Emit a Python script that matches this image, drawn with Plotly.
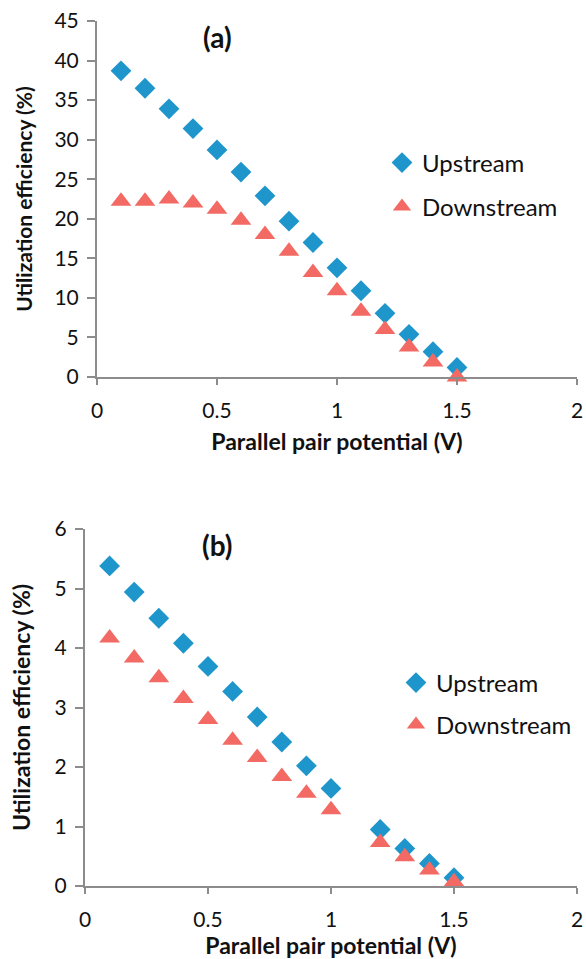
import plotly.graph_objects as go

# ---- data ----
potential_a = [0.1, 0.2, 0.3, 0.4, 0.5, 0.6, 0.7, 0.8, 0.9, 1.0, 1.1, 1.2, 1.3, 1.4, 1.5]
upstream_a = [38.7, 36.5, 33.9, 31.4, 28.7, 25.9, 22.9, 19.7, 17.0, 13.8, 10.9, 8.05, 5.4, 3.2, 1.2]
downstream_a = [22.2, 22.2, 22.5, 22.0, 21.2, 19.8, 18.0, 15.9, 13.2, 10.9, 8.3, 6.0, 3.8, 1.9, 0.0]

potential_b = [0.1, 0.2, 0.3, 0.4, 0.5, 0.6, 0.7, 0.8, 0.9, 1.0, 1.2, 1.3, 1.4, 1.5]
upstream_b = [5.38, 4.94, 4.50, 4.08, 3.69, 3.27, 2.84, 2.42, 2.02, 1.64, 0.95, 0.63, 0.38, 0.14]
downstream_b = [4.17, 3.83, 3.50, 3.15, 2.80, 2.45, 2.16, 1.84, 1.56, 1.28, 0.73, 0.49, 0.27, 0.07]

x_ticks = [0, 0.5, 1, 1.5, 2]
x_tick_text = ["0", "0.5", "1", "1.5", "2"]
y_ticks_a = [0, 5, 10, 15, 20, 25, 30, 35, 40, 45]
y_ticks_b = [0, 1, 2, 3, 4, 5, 6]

BLUE = "#1E96CB"
RED = "#F26A63"
AXIS = "#8C8C8C"
FONT = "Lato, 'Open Sans', sans-serif"
W, H = 586, 959

fig = go.Figure()

def add_pair(x, up, down, xa, ya, leg_up, leg_down):
    fig.add_trace(go.Scatter(x=x, y=up, mode="markers", name="Upstream",
                             marker=dict(symbol="diamond", size=16, color=BLUE),
                             xaxis=xa, yaxis=ya, legend=leg_up, showlegend=True, cliponaxis=False))
    fig.add_trace(go.Scatter(x=x, y=down, mode="markers", name="Downstream",
                             marker=dict(symbol="triangle-up", size=18, color=RED),
                             xaxis=xa, yaxis=ya, legend=leg_down, showlegend=True, cliponaxis=False))

add_pair(potential_a, upstream_a, downstream_a, "x", "y", "legend", "legend2")
add_pair(potential_b, upstream_b, downstream_b, "x2", "y2", "legend3", "legend4")

def xaxis(domain, anchor, title_size, standoff):
    return dict(domain=domain, anchor=anchor, range=[0, 2], tickvals=x_ticks, ticktext=x_tick_text,
                showgrid=False, zeroline=False, showline=True, linecolor=AXIS, linewidth=2,
                ticks="outside", ticklen=6, tickcolor=AXIS, tickwidth=1.5, automargin=False,
                tickfont=dict(size=21, color="#111"), ticklabelstandoff=8,
                title=dict(text="<b>Parallel pair potential (V)</b>",
                           font=dict(size=title_size, color="#111"), standoff=standoff))

def yaxis(domain, anchor, rng, ticks, title_size, standoff):
    return dict(domain=domain, anchor=anchor, range=rng, tickvals=ticks,
                showgrid=False, zeroline=False, showline=True, linecolor=AXIS, linewidth=2,
                ticks="outside", ticklen=8, tickcolor=AXIS, tickwidth=1.5, automargin=False,
                tickfont=dict(size=21, color="#111"), ticklabelstandoff=4,
                title=dict(text="<b>Utilization efficiency (%)</b>",
                           font=dict(size=title_size, color="#111"), standoff=standoff))

def legend_box(x, y):
    return dict(x=x / W, y=1 - y / H, xanchor="left", yanchor="middle",
                font=dict(size=24), tracegroupgap=0, itemwidth=30, bgcolor="rgba(0,0,0,0)")

fig.update_layout(
    width=W, height=H,
    margin=dict(l=0, r=0, t=0, b=0),
    paper_bgcolor="white", plot_bgcolor="white",
    font=dict(family=FONT, color="#111"),
    showlegend=True,
    xaxis=xaxis([97 / W, 577 / W], "y", 23, 13),
    yaxis=yaxis([1 - 377 / H, 1 - 21 / H], "x", [0, 45], y_ticks_a, 21, 16),
    xaxis2=xaxis([85 / W, 577 / W], "y2", 23, 14),
    yaxis2=yaxis([1 - 886 / H, 1 - 529 / H], "x2", [0, 6], y_ticks_b, 23, 18),
    legend=legend_box(382, 163),
    legend2=legend_box(382, 207),
    legend3=legend_box(396, 683),
    legend4=legend_box(396, 725),
    annotations=[
        dict(text="<b>(a)</b>", x=217 / W, y=1 - 37 / H, xref="paper", yref="paper",
             xanchor="center", yanchor="middle",
             showarrow=False, font=dict(size=28, color="#111")),
        dict(text="<b>(b)</b>", x=217 / W, y=1 - 545 / H, xref="paper", yref="paper",
             xanchor="center", yanchor="middle",
             showarrow=False, font=dict(size=28, color="#111")),
    ],
)

fig.write_html("out.html")
